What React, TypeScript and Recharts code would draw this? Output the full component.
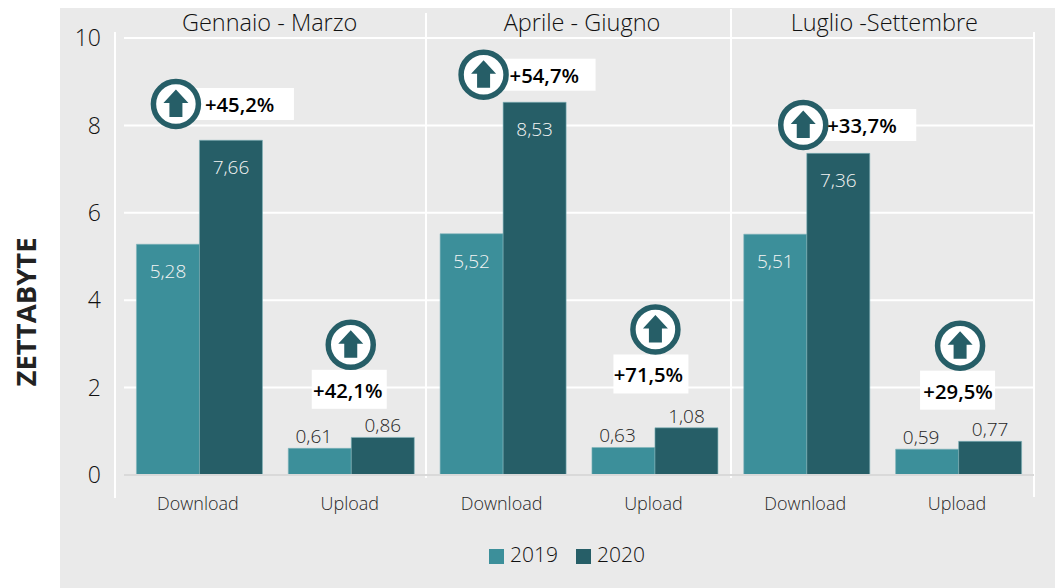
import React from 'react';
import {
  BarChart, Bar, XAxis, YAxis, CartesianGrid, LabelList, Legend, ReferenceDot,
} from 'recharts';

const QUARTERS = ['Gennaio - Marzo', 'Aprile - Giugno', 'Luglio -Settembre'];
const DIRECTIONS = ['Download', 'Upload'];
const VALUES_2019 = [5.28, 0.61, 5.52, 0.63, 5.51, 0.59];
const VALUES_2020 = [7.66, 0.86, 8.53, 1.08, 7.36, 0.77];
const CHANGES = ['+45,2%', '+42,1%', '+54,7%', '+71,5%', '+33,7%', '+29,5%'];
const Y_TICKS = [0, 2, 4, 6, 8, 10];

// where the callout circle sits on the value scale
const CALLOUT_LEVELS = [8.49, 2.98, 9.16, 3.33, 8.01, 2.96];
// horizontal nudge of each callout from its category centre, px
const CALLOUT_DX = [-24, -1, -20, 0, -4, 1];
const CALLOUT_BOX_W = [118, 75, 112, 75, 113, 75];
const CALLOUT_BOX_DX = [0, -39, 0, -42, 0, -40];
const CALLOUT_TEXT_DX = [29, -3, 26, -7, 24, -2];
const TITLE_DX = [-6, 3, 2];

const FONT = '"Open Sans", sans-serif';
const COLOR_2019 = '#3c8f9a';
const COLOR_2020 = '#265e67';
const PANEL = '#eaeaea';

const rows = VALUES_2019.map((v, i) => ({
  key: `${i}`,
  group: QUARTERS[Math.floor(i / 2)],
  direction: DIRECTIONS[i % 2],
  y2019: v,
  y2020: VALUES_2020[i],
}));

const fmt = (v: number) => v.toFixed(2).replace('.', ',');

const BarValue = ({ x, y, width, value, nudge = 0 }: any) => {
  const inside = value > 2;
  return (
    <text
      x={x + width / 2 + (inside ? 0 : nudge)}
      y={inside ? y + 27 : y - 12}
      textAnchor="middle"
      dominantBaseline="central"
      fontFamily={FONT}
      fontWeight={300}
      fontSize={19}
      fill={inside ? '#f4f4f4' : '#1f1f1f'}
    >
      {fmt(value)}
    </text>
  );
};

const Callout = ({ cx, cy, index }: { cx: number; cy: number; index: number }) => {
  const side = index % 2 === 0;
  return (
    <g>
      {side ? (
        <rect x={cx} y={cy - 16} width={CALLOUT_BOX_W[index]} height={32} fill="#fff" />
      ) : (
        <rect x={cx + CALLOUT_BOX_DX[index]} y={cy + 25} width={CALLOUT_BOX_W[index]} height={39} fill="#fff" />
      )}
      <circle cx={cx} cy={cy} r={22.5} fill="#fff" stroke={COLOR_2020} strokeWidth={5.5} />
      <path
        transform={`translate(${cx} ${cy})`}
        d="M0 -14.5 L12.5 -1 L6.5 -1 L6.5 13 L-6.5 13 L-6.5 -1 L-12.5 -1 Z"
        fill={COLOR_2020}
      />
      <text
        x={cx + CALLOUT_TEXT_DX[index]}
        y={side ? cy : cy + 45}
        textAnchor={side ? 'start' : 'middle'}
        dominantBaseline="central"
        fontFamily={FONT}
        fontWeight={600}
        fontSize={20.3}
        fill="#000"
      >
        {CHANGES[index]}
      </text>
    </g>
  );
};

const GroupTick = ({ x, y, payload, index }: any) => (
  <text
    x={x + TITLE_DX[index]}
    y={y + 1}
    textAnchor="middle"
    fontFamily={FONT}
    fontWeight={300}
    fontSize={23.5}
    fill="#111"
  >
    {payload.value}
  </text>
);

export default function App() {
  return (
    <div style={{ position: 'absolute', left: 0, top: 0, width: 1055, height: 588, background: '#fff', overflow: 'hidden' }}>
      <div style={{ position: 'absolute', left: 60, top: 8, right: 0, bottom: 0, background: PANEL }} />
      <BarChart
        width={1055}
        height={588}
        data={rows}
        margin={{ top: 8, right: 21, bottom: 83, left: 0 }}
        barCategoryGap="8.2%"
        barGap={0}
        style={{ position: 'absolute', left: 0, top: 0 }}
      >
        <CartesianGrid horizontal vertical={false} stroke="#fff" strokeWidth={2} xAxisId="cat" />
        <XAxis
          xAxisId="cat"
          dataKey="key"
          height={30}
          padding={{ left: 0, right: -1 }}
          tickLine={false}
          axisLine={{ stroke: '#d9d9d9', strokeWidth: 2 }}
          tickMargin={16}
          tickFormatter={(_: string, i: number) => rows[i].direction}
          tick={{ fill: '#262626', fontSize: 18, fontFamily: FONT, fontWeight: 300, dx: -2 }}
          interval={0}
        />
        <XAxis
          xAxisId="group"
          dataKey="group"
          orientation="top"
          height={30}
          allowDuplicatedCategory={false}
          tickLine={false}
          axisLine={false}
          tick={<GroupTick />}
          interval={0}
        />
        <YAxis
          width={124}
          domain={[0, 10]}
          ticks={Y_TICKS}
          tickLine={false}
          axisLine={false}
          tickMargin={17}
          tick={{ fill: '#111', fontSize: 23, fontFamily: FONT, fontWeight: 300 }}
          label={{
            value: 'ZETTABYTE',
            angle: -90,
            position: 'insideLeft',
            dx: 21,
            dy: 130,
            style: { fontFamily: FONT, fontWeight: 700, fontSize: 27.5, fill: '#222' },
          }}
        />
        <Bar xAxisId="cat" dataKey="y2019" name="2019" fill={COLOR_2019} stroke="#7fb3ba" strokeWidth={0.6} isAnimationActive={false}>
          <LabelList dataKey="y2019" content={<BarValue nudge={-6} />} />
        </Bar>
        <Bar xAxisId="cat" dataKey="y2020" name="2020" fill={COLOR_2020} stroke="#7fb3ba" strokeWidth={0.6} isAnimationActive={false}>
          <LabelList dataKey="y2020" content={<BarValue />} />
        </Bar>
        <Legend
          verticalAlign="middle"
          align="center"
          iconType="square"
          iconSize={15}
          wrapperStyle={{ left: 486, top: 540, width: 180, fontFamily: FONT, fontWeight: 300, fontSize: 21 }}
          formatter={(value: string) => <span style={{ color: '#111', marginLeft: 2, marginRight: 8 }}>{value}</span>}
        />
        <line x1={115} x2={115} y1={32} y2={498} stroke="#fff" strokeWidth={2} />
        <line x1={426} x2={426} y1={13} y2={478} stroke="#fff" strokeWidth={2} />
        <line x1={731} x2={731} y1={9} y2={478} stroke="#fff" strokeWidth={2} />
        <line x1={1034} x2={1034} y1={32} y2={497} stroke="#fff" strokeWidth={2} />
        {rows.map((r, i) => (
          <ReferenceDot
            key={r.key}
            xAxisId="cat"
            x={r.key}
            y={CALLOUT_LEVELS[i]}
            ifOverflow="visible"
            shape={(p: any) => <Callout cx={p.cx + CALLOUT_DX[i]} cy={p.cy} index={i} />}
          />
        ))}
      </BarChart>
    </div>
  );
}
